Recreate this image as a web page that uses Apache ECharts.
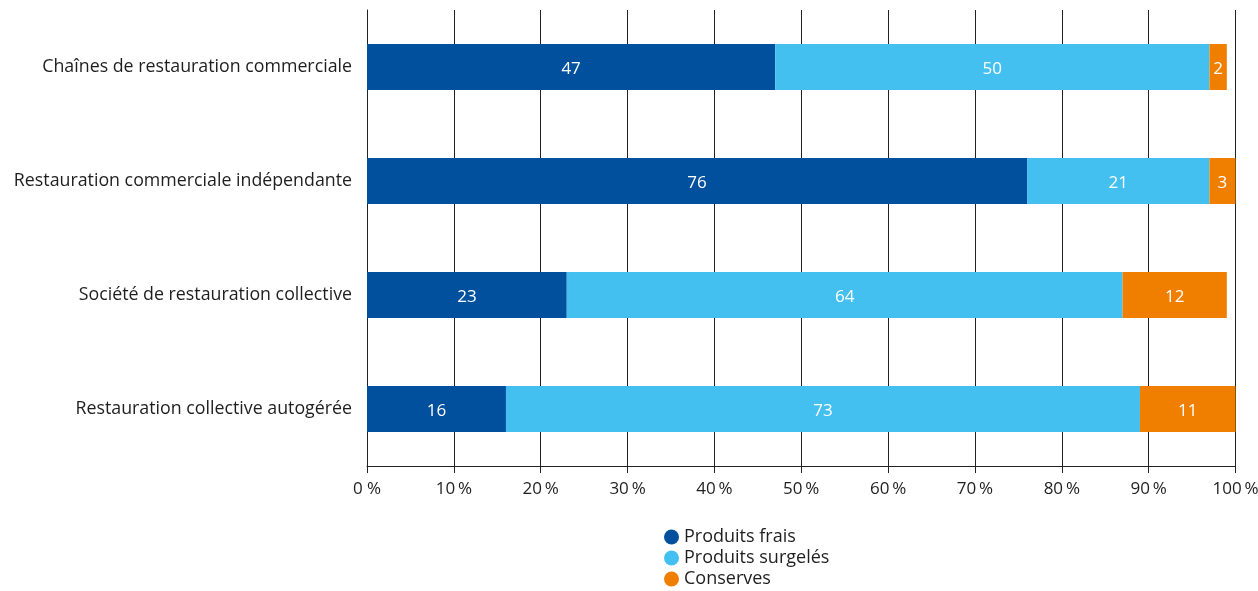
<!DOCTYPE html>
<html><head><meta charset="utf-8">
<script src="https://cdn.jsdelivr.net/npm/echarts@6/dist/echarts.min.js"></script>
<style>html,body{margin:0;padding:0;background:#fff}#c{width:1258px;height:591px}</style>
</head><body><div id="c"></div>
<script>
const categories = ["Chaînes de restauration commerciale","Restauration commerciale indépendante","Société de restauration collective","Restauration collective autogérée"];
const seriesNames = ["Produits frais","Produits surgelés","Conserves"];
const frais = [47, 76, 23, 16];
const surgeles = [50, 21, 64, 73];
const conserves = [2, 3, 12, 11];
const tickValues = [0,10,20,30,40,50,60,70,80,90,100];
const colors = ["#00509e","#43c0ef","#f07f00"];
const FONT = "Open Sans";
const chart = echarts.init(document.getElementById('c'));
const mk = (name, data, color) => ({
  name, type:'bar', stack:'s', data, barWidth:46,
  itemStyle:{color},
  label:{show:true, position:'inside', color:'#fff', fontSize:17, fontFamily:FONT, offset:[0,2]},
  emphasis:{disabled:true}
});
chart.setOption({
  animation:false,
  grid:{left:367, right:22.5, top:10, bottom:125, containLabel:false, outerBoundsMode:'none'},
  xAxis:{type:'value', min:0, max:100, interval:10,
    axisLine:{show:true, lineStyle:{color:'#222', width:1}},
    axisTick:{show:true, length:7, lineStyle:{color:'#222'}},
    splitLine:{show:true, lineStyle:{color:'#222', width:1}},
    axisLabel:{color:'#1e1e1e', fontSize:17, fontFamily:FONT, margin:15,
      formatter:v => v===0 ? '0 %' : v+'\u2009%'}
  },
  yAxis:{type:'category', data:categories, inverse:true,
    axisLine:{show:true, lineStyle:{color:'#222'}}, axisTick:{show:false},
    axisLabel:{color:'#1e1e1e', fontSize:17.8, fontFamily:FONT, margin:15}
  },
  legend:{orient:'vertical', left:659, top:523, height:70, itemGap:3, icon:'circle', itemWidth:15, itemHeight:15,
    textStyle:{color:'#1e1e1e', fontSize:18, fontFamily:FONT, padding:[0,0,0,0], lineHeight:16.5}, data:seriesNames},
  series:[mk(seriesNames[0], frais, colors[0]), mk(seriesNames[1], surgeles, colors[1]), mk(seriesNames[2], conserves, colors[2])]
});
</script></body></html>
